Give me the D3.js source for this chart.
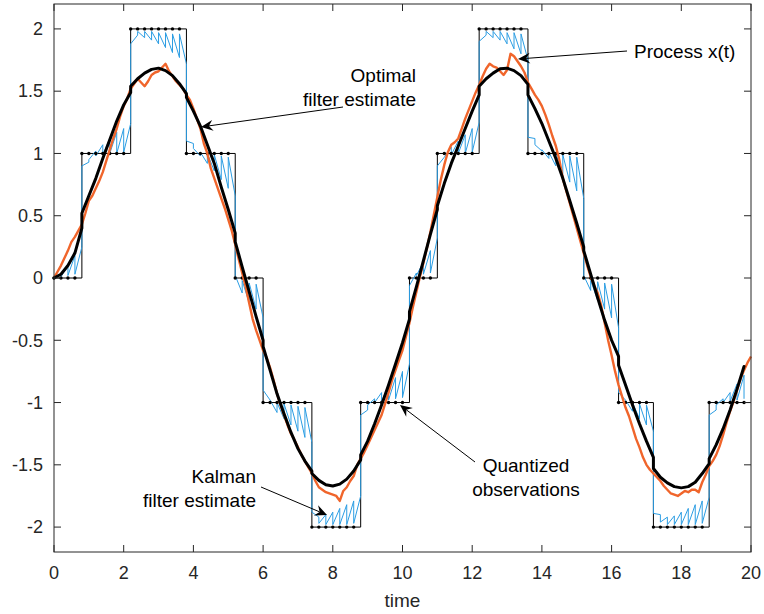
<!DOCTYPE html>
<html>
<head>
<meta charset="utf-8">
<script src="https://cdn.jsdelivr.net/npm/d3@7"></script>
<style>
  body { margin: 0; background: #fff; }
  svg { display: block; font-family: "Liberation Sans", Arial, Helvetica, sans-serif; }
</style>
</head>
<body>
<svg id="chart" width="764" height="614"></svg>
<script>
// sample period of the quantized observations / Kalman updates
const dtObs = 0.2;
// quantized observation level at each sample (t = 0, 0.2, ... 19.8)
const obsLevels = [
  0, 0, 0, 0,
  1, 1, 1, 1, 1, 1, 1,
  2, 2, 2, 2, 2, 2, 2, 2,
  1, 1, 1, 1, 1, 1, 1,
  0, 0, 0, 0,
  -1, -1, -1, -1, -1, -1, -1,
  -2, -2, -2, -2, -2, -2, -2,
  -1, -1, -1, -1, -1, -1, -1,
  0, 0, 0, 0,
  1, 1, 1, 1, 1, 1,
  2, 2, 2, 2, 2, 2, 2,
  1, 1, 1, 1, 1, 1, 1, 1,
  0, 0, 0, 0, 0,
  -1, -1, -1, -1, -1,
  -2, -2, -2, -2, -2, -2, -2, -2,
  -1, -1, -1, -1, -1, -1
];
// Kalman filter estimate just before / just after each update
const kfPre = [
  0.00, 0.03, 0.10, 0.18, 0.25, 0.93, 1.02, 1.07, 1.12, 1.17,
  1.20, 1.24, 1.95, 1.93, 1.91, 1.88, 1.85, 1.81, 1.77, 1.72,
  1.08, 0.98, 0.92, 0.86, 0.79, 0.72, 0.66, -0.12, -0.20, -0.25,
  -0.32, -0.98, -1.08, -1.13, -1.18, -1.23, -1.28, -1.32, -1.92, -1.90,
  -1.88, -1.85, -1.82, -1.79, -1.75, -1.06, -0.97, -0.92, -0.86, -0.80,
  -0.75, -0.69, 0.04, 0.13, 0.22, 0.32, 0.97, 1.05, 1.10, 1.15,
  1.20, 1.25, 1.95, 1.93, 1.91, 1.88, 1.84, 1.80, 1.75, 1.12,
  1.02, 0.96, 0.90, 0.84, 0.77, 0.70, 0.64, -0.10, -0.18, -0.25,
  -0.32, -0.40, -0.98, -1.07, -1.13, -1.18, -1.23, -1.90, -1.92, -1.91,
  -1.88, -1.85, -1.82, -1.79, -1.76, -1.06, -0.97, -0.92, -0.85, -0.78
];
const kfPost = [
  0.00, 0.01, 0.02, 0.03, 0.90, 0.95, 0.98, 0.99, 1.00, 1.00,
  1.01, 1.88, 1.98, 1.98, 1.98, 1.97, 1.97, 1.96, 1.96, 1.10,
  1.04, 1.01, 1.00, 0.99, 0.98, 0.97, 0.02, -0.02, -0.04, -0.05,
  -0.90, -0.98, -1.00, -1.01, -1.02, -1.03, -1.04, -1.88, -1.97, -1.98,
  -1.98, -1.98, -1.98, -1.97, -1.10, -1.02, -1.00, -0.99, -0.98, -0.97,
  -0.96, -0.06, 0.02, 0.03, 0.04, 0.90, 0.97, 0.99, 1.00, 1.00,
  1.01, 1.90, 1.98, 1.98, 1.98, 1.97, 1.97, 1.96, 1.13, 1.07,
  1.03, 1.01, 1.00, 0.99, 0.98, 0.97, 0.02, -0.02, -0.03, -0.04,
  -0.05, -0.92, -0.98, -1.00, -1.01, -1.02, -1.89, -1.96, -1.98, -1.98,
  -1.98, -1.98, -1.98, -1.97, -1.10, -1.02, -1.00, -0.99, -0.98, -0.97
];
// process x(t), every 0.1 time units
const dtProc = 0.1;
const processX = [
  0.00, 0.05, 0.10, 0.16, 0.22, 0.29, 0.33, 0.38, 0.43, 0.52,
  0.62, 0.66, 0.72, 0.78, 0.85, 0.94, 1.03, 1.12, 1.20, 1.30,
  1.38, 1.44, 1.52, 1.56, 1.60, 1.57, 1.54, 1.58, 1.63, 1.65,
  1.66, 1.69, 1.72, 1.66, 1.62, 1.58, 1.55, 1.52, 1.47, 1.43,
  1.36, 1.28, 1.20, 1.08, 1.00, 0.88, 0.80, 0.72, 0.64, 0.56,
  0.47, 0.38, 0.27, 0.15, 0.04, -0.07, -0.20, -0.33, -0.42, -0.50,
  -0.58, -0.64, -0.72, -0.82, -0.93, -1.02, -1.10, -1.18, -1.25, -1.30,
  -1.36, -1.42, -1.47, -1.52, -1.57, -1.63, -1.68, -1.70, -1.72, -1.73,
  -1.74, -1.75, -1.79, -1.71, -1.68, -1.63, -1.59, -1.50, -1.45, -1.40,
  -1.34, -1.28, -1.22, -1.16, -1.10, -1.01, -0.92, -0.82, -0.74, -0.66,
  -0.58, -0.47, -0.36, -0.23, -0.11, 0.01, 0.12, 0.24, 0.37, 0.51,
  0.65, 0.79, 0.91, 1.01, 1.07, 1.09, 1.12, 1.20, 1.28, 1.35,
  1.42, 1.49, 1.55, 1.62, 1.68, 1.72, 1.70, 1.69, 1.66, 1.63,
  1.67, 1.80, 1.78, 1.74, 1.70, 1.65, 1.57, 1.52, 1.47, 1.43,
  1.38, 1.31, 1.23, 1.14, 1.06, 0.95, 0.80, 0.70, 0.60, 0.50,
  0.40, 0.30, 0.20, 0.10, 0.01, -0.06, -0.12, -0.22, -0.36, -0.50,
  -0.62, -0.75, -0.86, -0.95, -1.04, -1.11, -1.20, -1.29, -1.36, -1.44,
  -1.50, -1.54, -1.57, -1.60, -1.63, -1.67, -1.70, -1.73, -1.74, -1.75,
  -1.73, -1.71, -1.72, -1.70, -1.70, -1.72, -1.64, -1.58, -1.51, -1.47,
  -1.42, -1.35, -1.26, -1.16, -1.07, -0.99, -0.90, -0.81, -0.74, -0.68,
  -0.63
];
// optimal filter estimate (times repeated where it jumps at an observation change)
const optT = [
  0, 0.2, 0.4, 0.6, 0.8, 0.8, 1.0, 1.2, 1.4, 1.6, 1.8, 2.0, 2.2, 2.2, 2.4, 2.6, 2.8, 3.0, 3.2, 3.4, 3.6,
  3.8, 3.8, 4.0, 4.2, 4.4, 4.6, 4.8, 5.0, 5.2, 5.2, 5.4, 5.6, 5.8, 6.0, 6.0, 6.2, 6.4, 6.6, 6.8, 7.0, 7.2,
  7.4, 7.4, 7.6, 7.8, 8.0, 8.2, 8.4, 8.6, 8.8, 8.8, 9.0, 9.2, 9.4, 9.6, 9.8, 10.0, 10.2, 10.2, 10.4, 10.6,
  10.8, 11.0, 11.0, 11.2, 11.4, 11.6, 11.8, 12.0, 12.2, 12.2, 12.4, 12.6, 12.8, 13.0, 13.2, 13.4, 13.6, 13.6,
  13.8, 14.0, 14.2, 14.4, 14.6, 14.8, 15.0, 15.2, 15.2, 15.4, 15.6, 15.8, 16.0, 16.2, 16.2, 16.4, 16.6,
  16.8, 17.0, 17.2, 17.2, 17.4, 17.6, 17.8, 18.0, 18.2, 18.4, 18.6, 18.8, 18.8, 19.0, 19.2, 19.4, 19.6, 19.8
];
const optY = [
  0.00, 0.03, 0.10, 0.20, 0.40, 0.52, 0.66, 0.80, 0.96, 1.11, 1.26, 1.39, 1.49, 1.54, 1.60, 1.645, 1.675, 1.685, 1.665, 1.625, 1.56,
  1.48, 1.45, 1.34, 1.22, 1.07, 0.92, 0.73, 0.55, 0.36, 0.29, 0.09, -0.11, -0.31, -0.50, -0.55, -0.74, -0.93, -1.09, -1.24, -1.37, -1.47,
  -1.55, -1.57, -1.625, -1.66, -1.67, -1.655, -1.615, -1.55, -1.46, -1.42, -1.31, -1.17, -1.02, -0.86, -0.69, -0.52, -0.33, -0.27, -0.07, 0.14,
  0.35, 0.55, 0.58, 0.76, 0.92, 1.06, 1.20, 1.34, 1.47, 1.54, 1.60, 1.645, 1.68, 1.685, 1.665, 1.625, 1.555, 1.47,
  1.36, 1.24, 1.10, 0.96, 0.80, 0.62, 0.44, 0.25, 0.22, 0.03, -0.16, -0.34, -0.50, -0.63, -0.70, -0.86, -1.02,
  -1.17, -1.31, -1.44, -1.53, -1.60, -1.645, -1.675, -1.685, -1.675, -1.64, -1.57, -1.49, -1.45, -1.34, -1.21, -1.06, -0.89, -0.71
];
const xTicks = d3.range(0, 21, 2);
const yTicks = [-2, -1.5, -1, -0.5, 0, 0.5, 1, 1.5, 2];

const svg = d3.select("#chart");
const plot = {left: 54, right: 751, top: 4, bottom: 552};
const x = d3.scaleLinear().domain([0, 20]).range([plot.left, plot.right]);
const y = d3.scaleLinear().domain([-2.2, 2.2]).range([plot.bottom, plot.top]);
const axisColor = "#262626";

const g = svg.append("g");

// Quantized observations: stairs + sample dots
const obsPts = obsLevels.map((v, i) => [i * dtObs, v]);
const stairs = obsPts.concat([[20, obsLevels[obsLevels.length - 1]]]);
g.append("path")
  .attr("d", d3.line().x(d => x(d[0])).y(d => y(d[1])).curve(d3.curveStepAfter)(stairs))
  .attr("fill", "none")
  .attr("stroke", "#000")
  .attr("stroke-width", 1);

// Kalman filter estimate (sawtooth: prediction between samples, jump at update)
const kfPts = [[0, kfPost[0]]];
for (let k = 1; k < kfPre.length; k++) {
  kfPts.push([k * dtObs, kfPre[k]]);
  kfPts.push([k * dtObs, kfPost[k]]);
}
g.append("path")
  .attr("d", d3.line().x(d => x(d[0])).y(d => y(d[1]))(kfPts))
  .attr("fill", "none")
  .attr("stroke", "#2b9de3")
  .attr("stroke-width", 1);

g.selectAll("circle.obs")
  .data(obsPts)
  .enter()
  .append("circle")
  .attr("class", "obs")
  .attr("cx", d => x(d[0]))
  .attr("cy", d => y(d[1]))
  .attr("r", 1.7)
  .attr("fill", "#000");

// Process x(t)
g.append("path")
  .attr("d", d3.line().x((d, i) => x(i * dtProc)).y(d => y(d))(processX))
  .attr("fill", "none")
  .attr("stroke", "#f0652b")
  .attr("stroke-width", 2.4)
  .attr("stroke-linejoin", "round");

// Optimal filter estimate
g.append("path")
  .attr("d", d3.line().x((d, i) => x(optT[i])).y(d => y(d))(optY))
  .attr("fill", "none")
  .attr("stroke", "#000")
  .attr("stroke-width", 3)
  .attr("stroke-linejoin", "round")
  .attr("stroke-linecap", "round");

// Axes box with inward ticks on all sides
const ax = svg.append("g").attr("stroke", axisColor).attr("stroke-width", 1).attr("fill", "none");
ax.append("rect")
  .attr("x", plot.left).attr("y", plot.top)
  .attr("width", plot.right - plot.left).attr("height", plot.bottom - plot.top);
const tl = 7;
xTicks.forEach(t => {
  ax.append("line").attr("x1", x(t)).attr("x2", x(t)).attr("y1", plot.bottom).attr("y2", plot.bottom - tl);
  ax.append("line").attr("x1", x(t)).attr("x2", x(t)).attr("y1", plot.top).attr("y2", plot.top + tl);
});
yTicks.forEach(v => {
  ax.append("line").attr("x1", plot.left).attr("x2", plot.left + tl).attr("y1", y(v)).attr("y2", y(v));
  ax.append("line").attr("x1", plot.right).attr("x2", plot.right - tl).attr("y1", y(v)).attr("y2", y(v));
});

svg.selectAll("text.xt")
  .data(xTicks)
  .enter()
  .append("text")
  .attr("x", d => x(d))
  .attr("y", 579)
  .attr("text-anchor", "middle")
  .attr("font-size", "18px")
  .attr("fill", axisColor)
  .text(d => d);

svg.selectAll("text.yt")
  .data(yTicks)
  .enter()
  .append("text")
  .attr("x", 43)
  .attr("y", d => y(d))
  .attr("dy", "0.35em")
  .attr("text-anchor", "end")
  .attr("font-size", "18px")
  .attr("fill", axisColor)
  .text(d => d);

svg.append("text")
  .attr("x", (plot.left + plot.right) / 2)
  .attr("y", 607)
  .attr("text-anchor", "middle")
  .attr("font-size", "19px")
  .attr("fill", axisColor)
  .text("time");

// Annotations
function arrow(x1, y1, x2, y2) {
  const ang = Math.atan2(y2 - y1, x2 - x1);
  const len = 12, half = 5.5, notch = 8;
  const ca = Math.cos(ang), sa = Math.sin(ang);
  const bx = x2 - len * ca, by = y2 - len * sa;
  const nx = x2 - notch * ca, ny = y2 - notch * sa;
  svg.append("line")
    .attr("x1", x1).attr("y1", y1).attr("x2", nx).attr("y2", ny)
    .attr("stroke", "#000").attr("stroke-width", 1);
  svg.append("path")
    .attr("d", `M${x2},${y2}L${bx - half * sa},${by + half * ca}L${nx},${ny}L${bx + half * sa},${by - half * ca}Z`)
    .attr("fill", "#000");
}
function label(lines, xPos, yFirst, anchor) {
  const t = svg.append("text")
    .attr("font-size", "19px")
    .attr("fill", "#000")
    .attr("text-anchor", anchor);
  lines.forEach((s, i) => {
    t.append("tspan").attr("x", xPos).attr("y", yFirst + i * 24).text(s);
  });
}

label(["Optimal", "filter estimate"], 416, 82, "end");
arrow(343, 107, 201, 127);

label(["Process x(t)"], 634, 58, "start");
arrow(627, 51, 518, 59);

label(["Kalman", "filter estimate"], 256, 483, "end");
arrow(261, 487, 327, 515);

label(["Quantized", "observations"], 526, 472, "middle");
arrow(475, 462, 400, 405);
</script>
</body>
</html>
